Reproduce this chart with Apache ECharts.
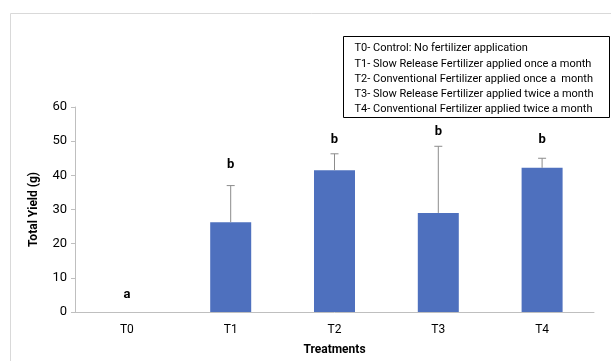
<!DOCTYPE html>
<html>
<head>
<meta charset="utf-8">
<script src="https://cdn.jsdelivr.net/npm/echarts@6/dist/echarts.min.js"></script>
<style>html,body{margin:0;padding:0;background:#fff;}#c{width:611px;height:361px;}</style>
</head>
<body>
<div id="c"></div>
<script>
var categories = ['T0', 'T1', 'T2', 'T3', 'T4'];
var yieldValues = [0, 26.3, 41.5, 29.0, 42.2];
var errorTop = [0, 37.0, 46.3, 48.5, 45.0];
var letters = ['a', 'b', 'b', 'b', 'b'];
var letterPos = [5.0, 43.0, 50.3, 52.7, 50.3];
var yTicks = [0, 10, 20, 30, 40, 50, 60];
var legendLines = [
  'T0- Control: No fertilizer application',
  'T1- Slow Release Fertilizer applied once a month',
  'T2- Conventional Fertilizer applied once a  month',
  'T3- Slow Release Fertilizer applied twice a month',
  'T4- Conventional Fertilizer applied twice a month'
];

var FONT = 'Roboto, sans-serif';
var chart = echarts.init(document.getElementById('c'), null, {renderer: 'canvas'});

var legendChildren = [{
  type: 'rect', shape: {x: 0, y: 0, width: 266, height: 81},
  style: {fill: '#fff', stroke: '#000', lineWidth: 1}
}];
legendLines.forEach(function (t, i) {
  legendChildren.push({
    type: 'text', x: 11, y: 12 + i * 15.3,
    style: {text: t, fill: '#000', font: '11px ' + FONT, textVerticalAlign: 'middle'}
  });
});

chart.setOption({
  animation: false,
  grid: {left: 75, right: 17, top: 107, bottom: 49},
  xAxis: {
    type: 'category', data: categories,
    axisLine: {lineStyle: {color: '#bfbfbf', width: 1}},
    axisTick: {show: false},
    axisLabel: {color: '#000', fontSize: 12, fontFamily: FONT, margin: 12},
    name: 'Treatments', nameLocation: 'middle', nameGap: 32,
    nameTextStyle: {color: '#000', fontSize: 12, fontWeight: 'bold', fontFamily: FONT}
  },
  yAxis: {
    type: 'value', min: yTicks[0], max: yTicks[yTicks.length - 1], interval: 10,
    axisLine: {show: true, lineStyle: {color: '#bfbfbf', width: 1}},
    axisTick: {show: true, length: 4, lineStyle: {color: '#bfbfbf'}},
    splitLine: {show: false},
    axisLabel: {color: '#000', fontSize: 13, fontFamily: FONT, margin: 8},
    name: 'Total Yield (g)', nameLocation: 'middle', nameGap: 35,
    nameTextStyle: {color: '#000', fontSize: 12, fontWeight: 'bold', fontFamily: FONT}
  },
  series: [
    {
      type: 'bar', data: yieldValues, barWidth: '39.5%',
      itemStyle: {color: '#4e70be', borderWidth: 0}
    },
    {
      type: 'custom', data: categories.map(function (c, i) { return [i, yieldValues[i], errorTop[i]]; }),
      z: 3,
      renderItem: function (params, api) {
        var i = api.value(0);
        if (api.value(2) <= api.value(1)) return null;
        var p0 = api.coord([i, api.value(1)]);
        var p1 = api.coord([i, api.value(2)]);
        var s = {stroke: '#8c8c8c', lineWidth: 1};
        return {type: 'group', children: [
          {type: 'line', shape: {x1: p0[0], y1: p0[1], x2: p1[0], y2: p1[1]}, style: s},
          {type: 'line', shape: {x1: p1[0] - 4, y1: p1[1], x2: p1[0] + 4, y2: p1[1]}, style: s}
        ]};
      }
    },
    {
      type: 'custom', data: categories.map(function (c, i) { return [i, letterPos[i]]; }),
      z: 4,
      renderItem: function (params, api) {
        var p = api.coord([api.value(0), api.value(1)]);
        return {type: 'text', x: p[0], y: p[1], style: {
          text: letters[params.dataIndex], fill: '#000', font: 'bold 13px ' + FONT,
          textAlign: 'center', textVerticalAlign: 'middle'
        }};
      }
    }
  ],
  graphic: [
    {type: 'rect', shape: {x: 10.5, y: 13.5, width: 620, height: 360}, style: {fill: 'none', stroke: '#d9d9d9', lineWidth: 1}, z: -1},
    {type: 'group', x: 343.5, y: 36.5, children: legendChildren, z: 10}
  ]
});
</script>
</body>
</html>
